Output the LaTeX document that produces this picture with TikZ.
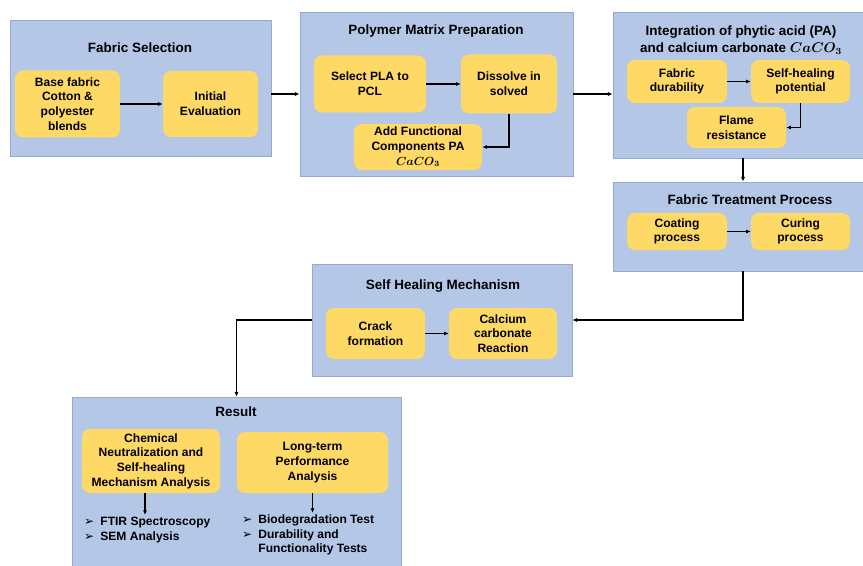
\documentclass[tikz,border=0pt]{standalone}
\usepackage{fontspec}
\setmainfont{Liberation Sans}
\newfontfamily\symbfont{DejaVu Sans}
\usetikzlibrary{arrows.meta,positioning}

\newlength\pixel
\setlength\pixel{0.03cm}

\definecolor{panelblue}{RGB}{180,199,231}
\definecolor{paneledge}{RGB}{150,170,208}
\definecolor{cardyellow}{RGB}{255,217,102}

\newcommand{\bul}{{\symbfont ➢}}

\tikzset{
  panel/.style={fill=panelblue, draw=paneledge, line width=0.6pt},
  card/.style={fill=cardyellow, rounded corners=8\pixel, align=center, inner sep=0pt,
    font=\fontsize{10.3}{12.5}\selectfont\bfseries},
  paneltitle/.style={align=center, inner sep=0pt, font=\fontsize{11.5}{14.5}\selectfont\bfseries},
  bullets/.style={anchor=north west, inner sep=0pt, font=\fontsize{10.3}{12.5}\selectfont\bfseries},
  flow/.style={-{Latex[length=4pt,width=3.5pt]}, line width=0.9pt}
}

\begin{document}
\begin{tikzpicture}[x=0.03cm, y=-0.03cm]

\useasboundingbox (0,0) rectangle (863,566);
\clip (0,0) rectangle (863,566);

% fabric selection
    \node[panel, minimum width=261\pixel, minimum height=136\pixel] (fabsel) at (140.5,88) {};
    \node[paneltitle] (fabsel-title) at (140,48) {Fabric Selection};
    \node[card, minimum width=105\pixel, minimum height=67\pixel] (base) at (67.5,104)
        {Base fabric\\Cotton \&\\polyester\\blends};
    \node[card, minimum width=95\pixel, minimum height=66\pixel] (initial) at (210.5,104)
        {Initial\\Evaluation};
    \draw[flow] (base) -- (initial);

% polymer matrix preparation
    \node[panel, minimum width=273\pixel, minimum height=164\pixel] (polymer) at (436.5,94) {};
    \node[paneltitle] (polymer-title) at (436,31) {Polymer Matrix Preparation};
    \node[card, minimum width=112\pixel, minimum height=57\pixel] (select) at (370,84)
        {Select PLA to\\PCL};
    \node[card, minimum width=96\pixel, minimum height=59\pixel] (dissolve) at (509,84)
        {Dissolve in\\solved};
    \node[card, minimum width=128\pixel, minimum height=46\pixel] (addfunc) at (418,147)
        {Add Functional\\Components PA\\{\boldmath$CaCO_3$}};
    \draw[flow] (select) -- (dissolve);
    \draw[flow] (dissolve.south) |- (addfunc.east);

% integration of PA and CaCO3
    \node[panel, minimum width=260\pixel, minimum height=146\pixel] (integ) at (743,85) {};
    \node[paneltitle] (integ-title) at (741,40)
        {Integration of phytic acid (PA)\\and calcium carbonate {\boldmath$CaCO_3$}};
    \node[card, minimum width=100\pixel, minimum height=43\pixel] (durab) at (677,81.5)
        {Fabric\\durability};
    \node[card, minimum width=99\pixel, minimum height=43\pixel] (selfheal) at (800.5,81.5)
        {Self-healing\\potential};
    \node[card, minimum width=99\pixel, minimum height=41\pixel] (flame) at (736.5,127.5)
        {Flame\\resistance};
    \draw[flow] (durab) -- (selfheal);
    \draw[flow] (selfheal.south) |- (flame.east);

% fabric treatment process
    \node[panel, minimum width=260\pixel, minimum height=89\pixel] (treat) at (743,226.5) {};
    \node[paneltitle] (treat-title) at (750,200) {Fabric Treatment Process};
    \node[card, minimum width=100\pixel, minimum height=37\pixel] (coating) at (677,231.5)
        {Coating\\process};
    \node[card, minimum width=99\pixel, minimum height=37\pixel] (curing) at (800.5,231.5)
        {Curing\\process};
    \draw[flow] (coating) -- (curing);

% self healing mechanism
    \node[panel, minimum width=260\pixel, minimum height=112\pixel] (selfmech) at (442,320) {};
    \node[paneltitle] (selfmech-title) at (443,286) {Self Healing Mechanism};
    \node[card, minimum width=99\pixel, minimum height=51\pixel] (crack) at (375.5,333.5)
        {Crack\\formation};
    \node[card, minimum width=108\pixel, minimum height=51\pixel] (calcium) at (503,333.5)
        {Calcium\\carbonate\\Reaction};
    \draw[flow] (crack) -- (calcium);

% result
    \node[panel, minimum width=329\pixel, minimum height=176\pixel] (result) at (236.5,485) {};
    \node[paneltitle] (result-title) at (236,412) {Result};
    \node[card, minimum width=138\pixel, minimum height=64\pixel] (chem) at (151,461)
        {Chemical\\Neutralization and\\Self-healing\\Mechanism Analysis};
    \node[card, minimum width=151\pixel, minimum height=61\pixel] (longterm) at (312.5,462.5)
        {Long-term\\Performance\\Analysis};
% lists
    \node[bullets] (ftir) at (84,515)
        {\begin{tabular}{@{}l@{\enspace}l@{}}
         \bul & FTIR Spectroscopy\\
         \bul & SEM Analysis
         \end{tabular}};
    \node[bullets] (biotest) at (242,513)
        {\begin{tabular}{@{}l@{\enspace}l@{}}
         \bul & Biodegradation Test\\
         \bul & Durability and\\
              & Functionality Tests
         \end{tabular}};
    \draw[flow] ([xshift=-6\pixel]chem.south) -- ([xshift=-6\pixel]chem.south |- ftir.north);
    \draw[flow] (longterm.south) -- (longterm.south |- biotest.north);

% links between panels
    \draw[flow] (polymer.west -| fabsel.east) -- (polymer.west);
    \draw[flow] (polymer.east) -- (polymer.east -| integ.west);
    \draw[flow] (integ.south) -- (treat.north);
    \draw[flow] (treat.south) |- (selfmech.east);
    \draw[flow] (selfmech.west) -| (result.north);

\end{tikzpicture}
\end{document}
